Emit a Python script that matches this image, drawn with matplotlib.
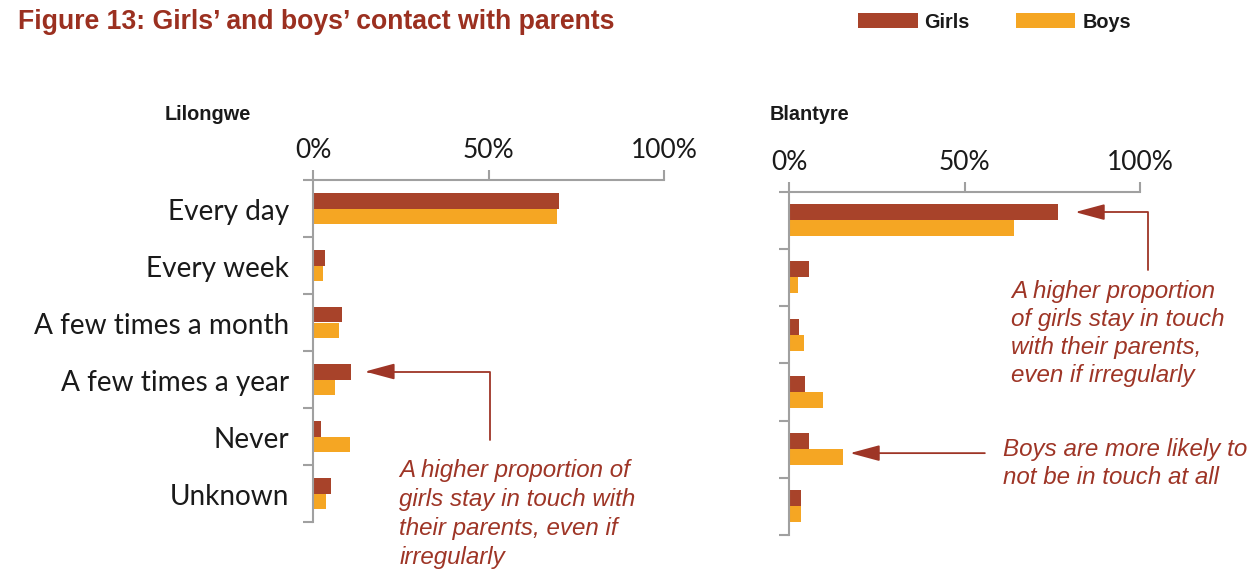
import matplotlib
matplotlib.use("Agg")
import matplotlib.pyplot as plt
from matplotlib.patches import Patch

categories = ["Every day", "Every week", "A few times a month", "A few times a year", "Never", "Unknown"]
lilongwe_girls = [70.0, 3.4, 8.4, 10.8, 2.4, 5.0]
lilongwe_boys = [69.5, 2.9, 7.5, 6.4, 10.5, 3.6]
blantyre_girls = [76.7, 5.6, 2.8, 4.6, 5.6, 3.5]
blantyre_boys = [64.0, 2.7, 4.3, 9.6, 15.5, 3.4]
xticks = [0, 50, 100]
xtick_labels = ["0%", "50%", "100%"]

GIRL = "#A8432A"
BOY = "#F5A623"
AX = "#A0A0A0"
ANN = "#9E3526"
LABEL_FONT = "Lato"
SANS = "Liberation Sans"

W, H = 1247, 571
fig = plt.figure(figsize=(W / 100, H / 100), dpi=100)


def px_rect(left, top, right, bottom):
    return [left / W, 1 - bottom / H, (right - left) / W, (bottom - top) / H]


def make_panel(rect, girls, boys, title, title_x, title_y, show_labels):
    ax = fig.add_axes(rect)
    n = len(categories)
    ys = list(range(n))
    h = 0.28
    ax.barh([y - h / 2 for y in ys], girls, height=h, color=GIRL, linewidth=0)
    ax.barh([y + h / 2 for y in ys], boys, height=h, color=BOY, linewidth=0)
    ax.set_xlim(0, 100)
    ax.set_ylim(n - 0.5, -0.5)
    ax.xaxis.tick_top()
    ax.set_xticks(xticks)
    ax.set_xticklabels(xtick_labels, fontfamily=LABEL_FONT, fontsize=19, color="#1a1a1a")
    ax.tick_params(axis="x", length=7, width=1.5, color=AX, pad=5)
    ax.set_yticks([y - 0.5 for y in range(n + 1)])
    ax.set_yticklabels([])
    ax.tick_params(axis="y", length=7, width=1.5, color=AX)
    if show_labels:
        for y, c in zip(ys, categories):
            ax.text(-0.068, y + 0.07, c, transform=ax.get_yaxis_transform(), ha="right", va="center",
                    fontfamily=LABEL_FONT, fontsize=20.2, color="#1a1a1a")
    for s in ["right", "bottom"]:
        ax.spines[s].set_visible(False)
    for s in ["left", "top"]:
        ax.spines[s].set_color(AX)
        ax.spines[s].set_linewidth(1.5)
    fig.text(title_x / W, 1 - title_y / H, title, fontfamily=SANS, fontweight="bold",
             fontsize=14.3, color="#1a1a1a", ha="left", va="center")
    return ax


ax1 = make_panel(px_rect(313, 180, 664, 522), lilongwe_girls, lilongwe_boys, "Lilongwe", 165, 114, True)
ax2 = make_panel(px_rect(789, 191.5, 1140, 535), blantyre_girls, blantyre_boys, "Blantyre", 770, 114, False)

arrow_kw = dict(arrowstyle="-|>,head_length=1.3,head_width=0.35", color=ANN, lw=1.3,
                mutation_scale=14, shrinkA=0, shrinkB=0)
ann_txt = dict(fontfamily=SANS, fontstyle="italic", fontsize=17.4, color=ANN,
               ha="left", va="top", linespacing=1.28)

# Lilongwe annotation
ax1.annotate("", xy=(14.8, 2.86), xytext=(50.4, 4.06), xycoords="data", textcoords="data",
             arrowprops=dict(connectionstyle="angle,angleA=90,angleB=0,rad=0", **arrow_kw),
             annotation_clip=False)
ax1.text(24.6, 4.40, "A higher proportion of\ngirls stay in touch with\ntheir parents, even if\nirregularly",
         **{**ann_txt, "linespacing": 1.33})

# Blantyre annotations
ax2.annotate("", xy=(81.5, -0.14), xytext=(102.3, 0.87), xycoords="data", textcoords="data",
             arrowprops=dict(connectionstyle="angle,angleA=90,angleB=0,rad=0", **arrow_kw),
             annotation_clip=False)
ax2.text(63.3, 1.04, "A higher proportion\nof girls stay in touch\nwith their parents,\neven if irregularly", **ann_txt)
ax2.annotate("", xy=(17.4, 4.07), xytext=(55.8, 4.07), xycoords="data", textcoords="data",
             arrowprops=dict(**arrow_kw), annotation_clip=False)
ax2.text(61.0, 3.80, "Boys are more likely to\nnot be in touch at all", **ann_txt)

# Figure title
fig.text(18 / W, 1 - 22 / H, "Figure 13: Girls\u2019 and boys\u2019 contact with parents", fontfamily=SANS,
         fontweight="bold", fontsize=19.2, color="#9B3020", ha="left", va="center")

# Legend
handles = [Patch(facecolor=GIRL, edgecolor="none", label="Girls"),
           Patch(facecolor=BOY, edgecolor="none", label="Boys")]
leg = fig.legend(handles=handles, loc="center left", bbox_to_anchor=(858 / W, 1 - 22 / H), ncol=2,
                 frameon=False, handlelength=3.0, handleheight=0.75, handletextpad=0.35,
                 columnspacing=2.3, borderaxespad=0, borderpad=0,
                 prop=dict(family=SANS, weight="bold", size=14.3))
for t in leg.get_texts():
    t.set_color("#1a1a1a")

fig.savefig("out.png", dpi=100)
